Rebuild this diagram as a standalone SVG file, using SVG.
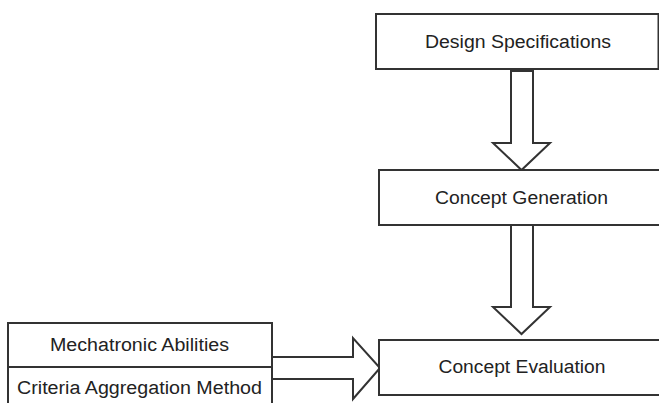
<svg xmlns="http://www.w3.org/2000/svg" width="659" height="403" viewBox="0 0 659 403">
<style>
.box{fill:#fff;stroke:#333;stroke-width:2}
.arr{fill:#fff;stroke:#333;stroke-width:2;stroke-linejoin:miter}
text{font-family:"Liberation Sans",Arial,sans-serif;font-size:18px;fill:#222;text-anchor:middle}
</style>
<rect width="659" height="403" fill="#fff"/>
<g id="connectors">
<polygon class="arr" points="511,71 533,71 533,143 550,143 521.5,170 493,143 511,143"/>
<polygon class="arr" points="511,225 533,225 533,307 550,307 521.5,334 493,307 511,307"/>
<polygon class="arr" points="272,357 353,357 353,338 380,368 353,399 353,379 272,379"/>
</g>
<g id="design-specifications">
<rect class="box" x="376" y="14" width="282.5" height="55"/>
<text x="518" y="47.5" textLength="186" lengthAdjust="spacingAndGlyphs">Design Specifications</text>
</g>
<g id="concept-generation">
<rect class="box" x="379" y="170" width="290" height="55"/>
<text x="521.5" y="203.5" textLength="173" lengthAdjust="spacingAndGlyphs">Concept Generation</text>
</g>
<g id="concept-evaluation">
<rect class="box" x="379" y="340" width="290" height="55"/>
<text x="522" y="372.5" textLength="167" lengthAdjust="spacingAndGlyphs">Concept Evaluation</text>
</g>
<g id="mechatronic-abilities">
<rect class="box" x="8" y="323" width="264" height="44"/>
<text x="139.5" y="350.5" textLength="179" lengthAdjust="spacingAndGlyphs">Mechatronic Abilities</text>
</g>
<g id="criteria-aggregation-method">
<rect class="box" x="8" y="367" width="264" height="44"/>
<text x="139.5" y="393.5" textLength="245" lengthAdjust="spacingAndGlyphs">Criteria Aggregation Method</text>
</g>
</svg>
